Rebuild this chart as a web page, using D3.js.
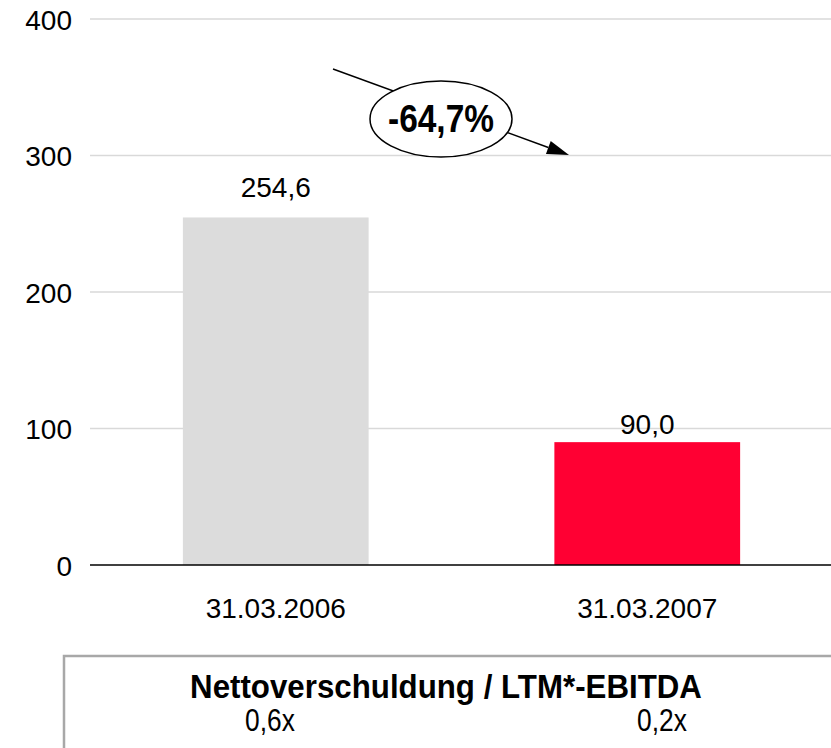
<!DOCTYPE html>
<html><head><meta charset="utf-8">
<script src="https://cdn.jsdelivr.net/npm/d3@7"></script>
<style>body{margin:0;background:#fff}svg{display:block}</style>
</head><body>
<script>
const categories = ["31.03.2006", "31.03.2007"];
const values = [254.6, 90.0];
const valueLabels = ["254,6", "90,0"];
const barColors = ["#dcdcdc", "#ff0033"];
const yTicks = [0, 100, 200, 300, 400];
const ratioTitle = "Nettoverschuldung / LTM*-EBITDA";
const ratios = ["0,6x", "0,2x"];
const changeLabel = "-64,7%";

const W = 831, H = 748;
const svg = d3.select("body").append("svg").attr("width", W).attr("height", H);
const font = "'Liberation Sans', Arial, sans-serif";
const FS = 28;

const x = d3.scaleBand().domain(categories).range([90, 833]).paddingInner(0.5).paddingOuter(0.25);
const y = d3.scaleLinear().domain([0, 400]).range([565, 19]);

// grid
svg.append("g").selectAll("line").data(yTicks.filter(d => d > 0)).join("line")
  .attr("x1", 90).attr("x2", W).attr("y1", d => y(d)).attr("y2", d => y(d))
  .attr("stroke", "#d9d9d9").attr("stroke-width", 1.3);

// y axis labels
const yAxis = svg.append("g").attr("transform", "translate(72,0)")
  .call(d3.axisLeft(y).tickValues(yTicks).tickSize(0).tickPadding(0));
yAxis.select(".domain").remove();
yAxis.attr("font-size", null).attr("font-family", null);
yAxis.selectAll("text").attr("font-family", font).attr("font-size", FS).attr("fill", "#000").attr("dy", "0.36em");

// bars
svg.append("g").selectAll("rect").data(values).join("rect")
  .attr("x", (d, i) => x(categories[i])).attr("width", x.bandwidth())
  .attr("y", d => y(d)).attr("height", d => y(0) - y(d))
  .attr("fill", (d, i) => barColors[i]);

// value labels
const labelGap = [20, 8];
svg.append("g").selectAll("text").data(values).join("text")
  .attr("x", (d, i) => x(categories[i]) + x.bandwidth() / 2)
  .attr("y", (d, i) => y(d) - labelGap[i])
  .attr("text-anchor", "middle").attr("font-family", font).attr("font-size", FS)
  .text((d, i) => valueLabels[i]);

// baseline
svg.append("line").attr("x1", 90).attr("x2", W).attr("y1", y(0)).attr("y2", y(0))
  .attr("stroke", "#000").attr("stroke-width", 1.5);

// category labels
svg.append("g").selectAll("text").data(categories).join("text")
  .attr("x", d => x(d) + x.bandwidth() / 2).attr("y", 618)
  .attr("text-anchor", "middle").attr("font-family", font).attr("font-size", FS)
  .text(d => d);

// annotation arrow
const x1 = 333, y1 = 69, x2 = 569, y2 = 155;
const ang = Math.atan2(y2 - y1, x2 - x1);
const L = 22, Wd = 7;
const bx = x2 - L * Math.cos(ang), by = y2 - L * Math.sin(ang);
svg.append("line").attr("x1", x1).attr("y1", y1).attr("x2", bx).attr("y2", by)
  .attr("stroke", "#000").attr("stroke-width", 1.5);
svg.append("path")
  .attr("d", `M${x2},${y2} L${bx + Wd * Math.sin(ang)},${by - Wd * Math.cos(ang)} L${bx - Wd * Math.sin(ang)},${by + Wd * Math.cos(ang)} Z`)
  .attr("fill", "#000");
svg.append("ellipse").attr("cx", 441).attr("cy", 119).attr("rx", 71).attr("ry", 38)
  .attr("fill", "#fff").attr("stroke", "#000").attr("stroke-width", 1.5);
svg.append("text").attr("transform", "translate(441,132) scale(0.88,1)").attr("text-anchor", "middle")
  .attr("font-family", font).attr("font-weight", "bold").attr("font-size", 38).text(changeLabel);

// ratio box
svg.append("path").attr("d", `M64,${H} L64,656 L${W},656`).attr("fill", "none")
  .attr("stroke", "#a8a8a8").attr("stroke-width", 2.5);
svg.append("text").attr("transform", "translate(446,698) scale(0.92,1)").attr("text-anchor", "middle")
  .attr("font-family", font).attr("font-weight", "bold").attr("font-size", 34).text(ratioTitle);
svg.append("g").selectAll("text").data(ratios).join("text")
  .attr("transform", (d, i) => `translate(${i === 0 ? 270 : 662},731) scale(0.85,1)`).attr("text-anchor", "middle")
  .attr("font-family", font).attr("font-size", 31).text(d => d);
</script>
</body></html>
